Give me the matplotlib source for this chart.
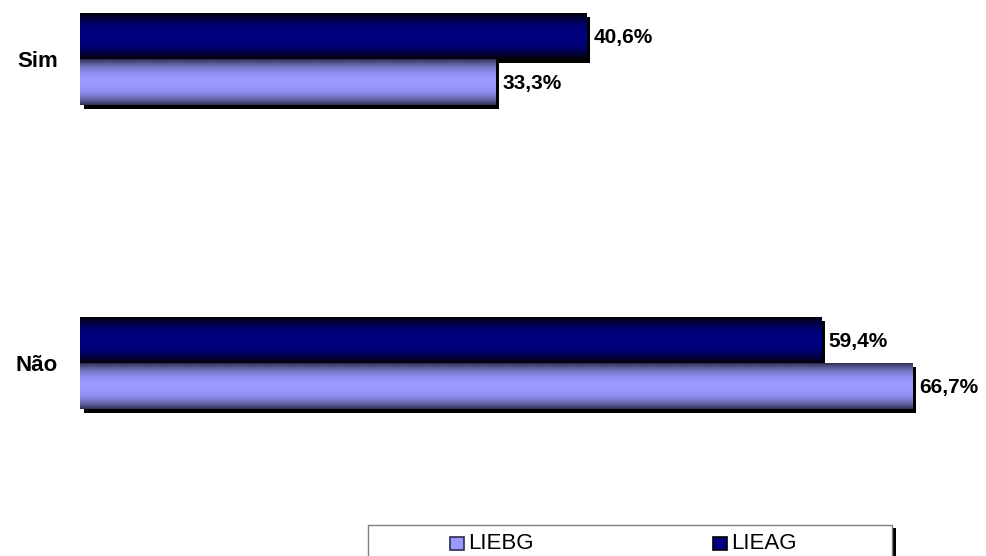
import numpy as np
import matplotlib.pyplot as plt
import matplotlib.patheffects as pe
from matplotlib.colors import LinearSegmentedColormap
from matplotlib.patches import Rectangle

plt.rcParams["font.family"] = ["Liberation Sans", "DejaVu Sans"]

# ---- data ----
categories = ["Sim", "Não"]
series_names = ["LIEBG", "LIEAG"]
liebg = [33.3, 66.7]
lieag = [40.6, 59.4]

# (centre colour, edge colour) for the shaded bars
STYLE = {
    "LIEBG": ("#9999FF", "#2E2E52"),
    "LIEAG": ("#000080", "#000000"),
}

W, H = 987, 556
fig = plt.figure(figsize=(W / 100, H / 100), dpi=100)
ax = fig.add_axes([80 / W, 0, 904 / W, 1])

ypos = np.arange(len(categories))
h = 0.151
shadow = [pe.SimplePatchShadow(offset=(2.6, -2.6), shadow_rgbFace="black", alpha=1.0),
          pe.Normal()]

bars_ag = ax.barh(ypos - h / 2, lieag, height=h, color=STYLE["LIEAG"][0],
                  zorder=2, path_effects=shadow)
bars_bg = ax.barh(ypos + h / 2, liebg, height=h, color=STYLE["LIEBG"][0],
                  zorder=2, path_effects=shadow)

# vertical gradient: dark at top/bottom, bright in the middle
t = np.linspace(0, 1, 200)
prof = 1 - np.abs(2 * t - 1) ** 2.5
for bars, name in [(bars_ag, "LIEAG"), (bars_bg, "LIEBG")]:
    centre, edge = STYLE[name]
    cmap = LinearSegmentedColormap.from_list(name, [edge, centre])
    for p in bars:
        x0, y0 = p.get_x(), p.get_y()
        ax.imshow(prof[:, None], extent=[x0, x0 + p.get_width(), y0, y0 + p.get_height()],
                  cmap=cmap, vmin=0, vmax=1, aspect="auto",
                  interpolation="bilinear", zorder=3)

# value labels
for bars, vals in [(bars_ag, lieag), (bars_bg, liebg)]:
    for p, v in zip(bars, vals):
        ax.annotate(f"{v:.1f}%".replace(".", ","),
                    (v, p.get_y() + p.get_height() / 2),
                    xytext=(5.0, -1), textcoords="offset points",
                    ha="left", va="center", fontsize=15, fontweight="bold",
                    annotation_clip=False)

ax.set_xlim(0, 904 / 12.48)
ax.set_ylim((H - 59) / 304, -59 / 304)
ax.set_yticks(ypos, categories, fontsize=16, fontweight="bold")
ax.tick_params(axis="y", length=0, pad=16)
ax.set_xticks([])
for s in ax.spines.values():
    s.set_visible(False)
ax.set_facecolor("none")

# ---- legend (boxed, with shadow, cut by the bottom edge) ----
def fx(px):
    return px / W


def fy(py):
    return 1 - py / H


fig.patches.append(Rectangle((fx(892), fy(562)), 4 / W, 34 / H, transform=fig.transFigure,
                             facecolor="black", edgecolor="none", zorder=1))
fig.patches.append(Rectangle((fx(368), fy(562)), (892 - 368) / W, 37 / H,
                             transform=fig.transFigure, facecolor="white",
                             edgecolor="#7F7F7F", lw=1.0, zorder=2))

legend_x = [450, 713]
for name, lx in zip(series_names, legend_x):
    centre, edge = STYLE[name]
    fig.patches.append(Rectangle((fx(lx), fy(550)), 14 / W, 13 / H, transform=fig.transFigure,
                                 facecolor=centre, edgecolor=edge, lw=1.2, zorder=3))
    fig.text(fx(lx + 18), fy(543.5), name, ha="left", va="center", fontsize=16, zorder=4)

fig.savefig("out.png", dpi=100)
